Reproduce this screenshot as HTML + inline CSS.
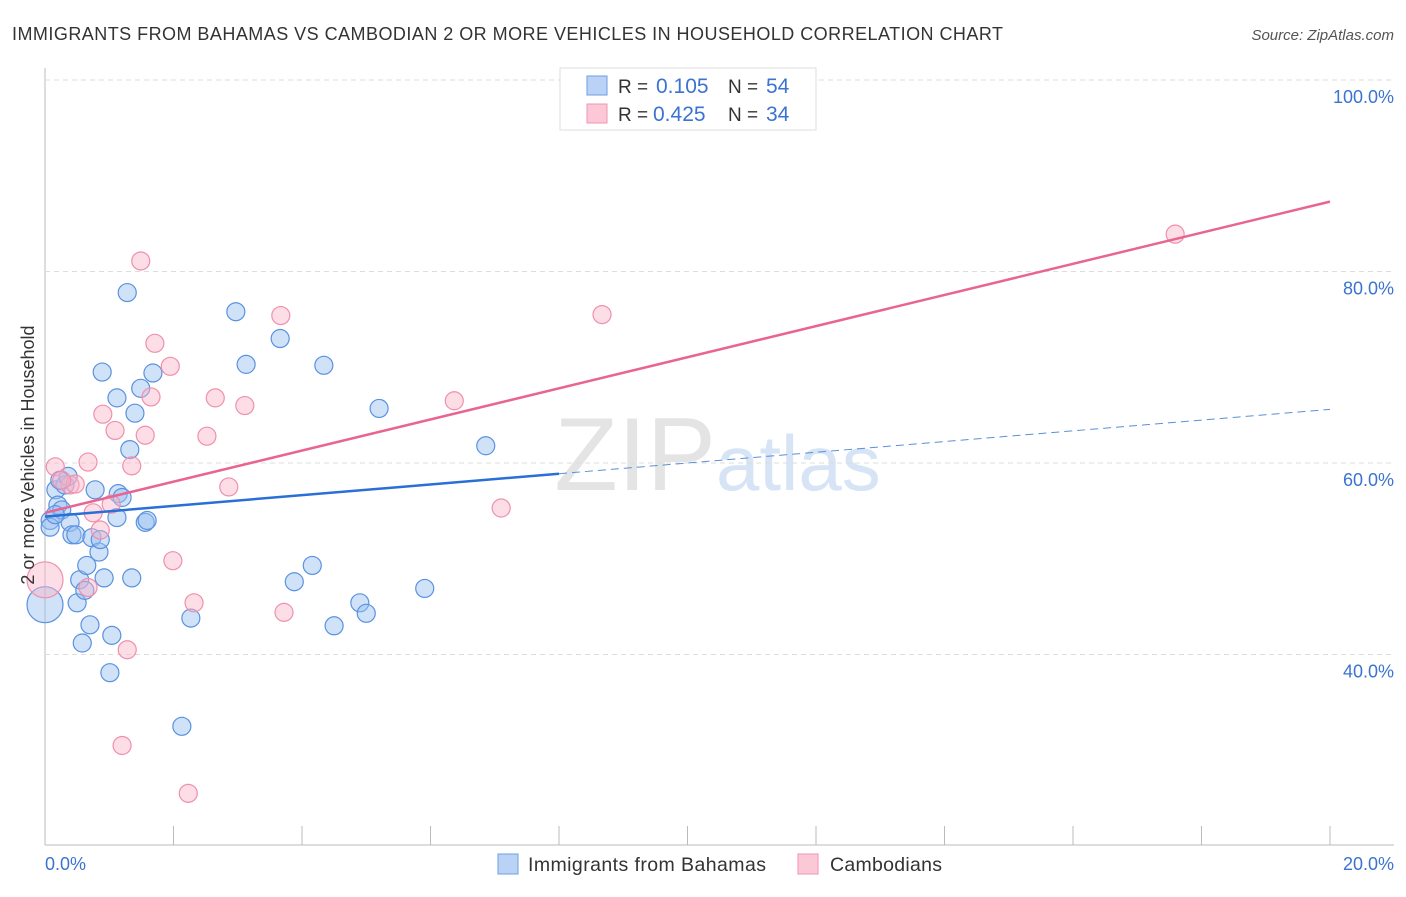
<!DOCTYPE html>
<html><head><meta charset="utf-8"><style>
body{margin:0;background:#fff;font-family:"Liberation Sans",sans-serif}
svg text{font-family:"Liberation Sans",sans-serif}
</style></head><body>
<svg id="c" width="1406" height="892">
<text x="12" y="40" font-size="18" fill="#333" textLength="991">IMMIGRANTS FROM BAHAMAS VS CAMBODIAN 2 OR MORE VEHICLES IN HOUSEHOLD CORRELATION CHART</text>
<text x="1394" y="40" font-size="15" fill="#555" text-anchor="end" font-style="italic">Source: ZipAtlas.com</text>
<text x="716" y="490" font-size="104" fill="#e4e4e4" text-anchor="end" font-family="Liberation Serif">ZIP</text>
<text x="716" y="490" font-size="78" fill="#d6e4f5">atlas</text>
<g id="grid"></g><g id="pts"></g><g id="lines"></g>
<text transform="translate(34,455) rotate(-90)" font-size="18" fill="#333" text-anchor="middle">2 or more Vehicles in Household</text>
<text x="45" y="870" font-size="18" fill="#3b73d1">0.0%</text>
<text x="1394" y="870" font-size="18" fill="#3b73d1" text-anchor="end">20.0%</text>
<g>
<rect x="560" y="68" width="256" height="62" fill="#fff" stroke="#ddd"/>
<rect x="587" y="76" width="20" height="19" fill="#b9d2f5" stroke="#6e9fe0"/>
<rect x="587" y="104" width="20" height="19" fill="#fcc8d7" stroke="#f093b0"/>
<text x="618" y="93" font-size="19" fill="#333">R = <tspan x="656" fill="#3b73d1" font-size="21">0.105</tspan><tspan x="728">N = </tspan><tspan x="766" fill="#3b73d1" font-size="21">54</tspan></text>
<text x="618" y="121" font-size="19" fill="#333">R = <tspan x="653" fill="#3b73d1" font-size="21">0.425</tspan><tspan x="728">N = </tspan><tspan x="766" fill="#3b73d1" font-size="21">34</tspan></text>
</g>
<g>
<rect x="498" y="854" width="20" height="20" fill="#b9d2f5" stroke="#6e9fe0"/>
<text x="528" y="871" font-size="19.5" fill="#333" textLength="238">Immigrants from Bahamas</text>
<rect x="798" y="854" width="20" height="20" fill="#fcc8d7" stroke="#f093b0"/>
<text x="830" y="871" font-size="19.5" fill="#333" textLength="112">Cambodians</text>
</g>
</svg>
<script>
const yTicks=[40,60,80,100];
const xTicks=[0,2,4,6,8,10,12,14,16,18,20];
const blueX=[0.08,0.08,0.17,0.20,0.26,0.31,0.36,0.39,0.42,0.48,0.50,0.54,0.58,0.62,0.65,0.70,0.73,0.78,0.84,0.89,0.92,1.04,1.01,1.12,1.14,1.20,1.28,1.32,1.35,1.40,1.49,1.56,1.59,1.68,2.13,2.27,2.97,3.13,3.66,3.88,4.16,4.34,4.50,4.90,5.00,5.20,5.91,6.86,0,0.16,0.86,0.23,1.12];
const blueY=[54.0,53.3,57.2,55.6,55.1,57.7,58.6,53.8,52.5,52.5,45.4,47.8,41.2,46.7,49.3,43.1,52.2,57.2,50.7,69.5,48.0,42.0,38.1,66.8,56.8,56.4,77.8,61.4,48.0,65.2,67.8,53.8,54.0,69.4,32.5,43.8,75.8,70.3,73.0,47.6,49.3,70.2,43.0,45.4,44.3,65.7,46.9,61.8,45.2,54.6,52.0,58.2,54.3];
const blueR=[9,9,9,9,9,9,9,9,9,9,9,9,9,9,9,9,9,9,9,9,9,9,9,9,9,9,9,9,9,9,9,9,9,9,9,9,9,9,9,9,9,9,9,9,9,9,9,9,18,9,9,9,9];
const pinkX=[0.16,0.39,0.67,0.75,0.86,0.90,1.03,1.09,1.35,1.49,1.56,1.65,1.71,1.95,1.99,2.32,2.52,2.65,2.86,3.11,3.67,3.72,1.28,1.20,2.23,6.37,7.10,8.67,17.59,0,0.47,0.67,0.26];
const pinkY=[59.6,57.7,60.1,54.8,53.0,65.1,55.7,63.4,59.7,81.1,62.9,66.9,72.5,70.1,49.8,45.4,62.8,66.8,57.5,66.0,75.4,44.4,40.5,30.5,25.5,66.5,55.3,75.5,83.9,47.8,57.8,47.0,58.2];
const pinkR=[9,9,9,9,9,9,9,9,9,9,9,9,9,9,9,9,9,9,9,9,9,9,9,9,9,9,9,9,9,18,9,9,9];
const blueTrend=[54.4,65.6];
const pinkTrend=[54.8,87.3];
const X=v=>45+v/20*1285, Y=v=>80+(100-v)*9.575;
const NS='http://www.w3.org/2000/svg';
function mk(t,a,p){const e=document.createElementNS(NS,t);for(const k in a)e.setAttribute(k,a[k]);p.appendChild(e);return e;}
const g=document.getElementById('grid');
mk('line',{x1:45,y1:68,x2:45,y2:845,stroke:'#bbb'},g);
mk('line',{x1:45,y1:845,x2:1394,y2:845,stroke:'#bbb'},g);
yTicks.forEach(t=>{const l=mk('line',{x1:45,y1:Y(t),x2:1394,y2:Y(t),stroke:'#ddd','stroke-dasharray':'5,4'},g);


const tx=mk('text',{x:1394,y:Y(t)+23,'font-size':18,fill:'#3b73d1','text-anchor':'end'},g);tx.textContent=t.toFixed(1)+'%';

});
xTicks.forEach(t=>{const l=mk('line',{x1:X(t),y1:826,x2:X(t),y2:845,stroke:'#bbb'},g);

});
const p=document.getElementById('pts');
blueX.forEach((v,i)=>{const c=mk('circle',{cx:X(v),cy:Y(blueY[i]),r:blueR[i],fill:'rgba(150,190,240,0.45)',stroke:'#5a92e0','stroke-width':1.2},p);

});
pinkX.forEach((v,i)=>{const c=mk('circle',{cx:X(v),cy:Y(pinkY[i]),r:pinkR[i],fill:'rgba(250,180,200,0.45)',stroke:'#ef90ad','stroke-width':1.2},p);

});
const L=document.getElementById('lines');
const bAt=x=>blueTrend[0]+(blueTrend[1]-blueTrend[0])*x/20;
let l1=mk('line',{x1:X(0),y1:Y(bAt(0)),x2:X(8),y2:Y(bAt(8)),stroke:'#2a6fd6','stroke-width':2.5},L);


let l2=mk('line',{x1:X(8),y1:Y(bAt(8)),x2:X(20),y2:Y(bAt(20)),stroke:'#5a8fd8','stroke-width':1,'stroke-dasharray':'8,5'},L);


let l3=mk('line',{x1:X(0),y1:Y(pinkTrend[0]),x2:X(20),y2:Y(pinkTrend[1]),stroke:'#e86592','stroke-width':2.5},L);


</script>
</body></html>
